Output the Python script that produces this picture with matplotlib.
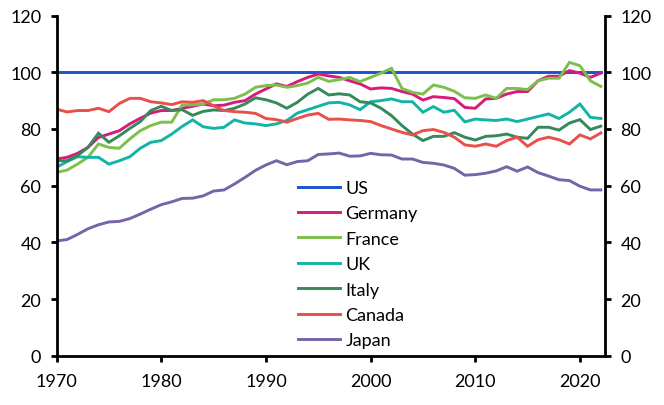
import matplotlib
matplotlib.use("Agg")
import matplotlib.pyplot as plt
import numpy as np

years = list(range(1970, 2023))

us = [100.0] * len(years)

germany = [69.4, 70.0, 71.4, 73.5, 77.0, 78.2, 79.4, 81.8, 83.8, 85.6,
           86.5, 86.5, 87.3, 88.0, 88.8, 88.2, 88.4, 89.4, 90.0, 92.3,
           94.1, 95.9, 95.0, 96.7, 98.2, 99.4, 98.7, 98.2, 97.0, 95.9,
           94.1, 94.5, 94.3, 93.2, 92.3, 90.2, 91.4, 91.1, 90.7, 87.6,
           87.3, 90.6, 90.8, 92.3, 93.2, 93.2, 97.0, 98.6, 98.6, 100.6,
           99.7, 98.2, 99.7]

france = [64.7, 65.5, 67.6, 70.0, 74.7, 73.5, 73.2, 76.5, 79.4, 81.2,
          82.4, 82.4, 88.5, 88.5, 88.8, 90.3, 90.3, 90.8, 92.3, 94.7,
          95.3, 95.5, 94.7, 95.3, 96.2, 98.2, 96.8, 97.4, 98.2, 96.7,
          98.2, 99.7, 101.4, 94.3, 92.9, 92.3, 95.5, 94.7, 93.3, 91.0,
          90.8, 92.0, 90.8, 94.3, 94.3, 93.9, 97.0, 97.9, 97.9, 103.5,
          102.3, 97.0, 95.0]

uk = [66.5, 68.5, 70.2, 70.0, 70.0, 67.6, 68.8, 70.2, 73.2, 75.3,
      75.9, 78.2, 80.9, 83.2, 80.8, 80.2, 80.6, 83.2, 82.1, 81.8,
      81.2, 81.8, 83.0, 85.6, 86.8, 88.0, 89.2, 89.4, 88.5, 86.8,
      89.6, 90.0, 90.6, 89.6, 89.6, 85.9, 87.9, 85.9, 86.6, 82.5,
      83.5, 83.2, 83.0, 83.5, 82.6, 83.5, 84.4, 85.3, 83.7, 85.9,
      88.8, 84.1, 83.7]

italy = [68.8, 68.8, 70.6, 73.5, 78.5, 75.3, 77.6, 80.2, 82.6, 86.5,
         88.0, 86.5, 86.8, 84.8, 86.2, 86.7, 86.5, 87.3, 88.8, 91.0,
         90.3, 89.2, 87.3, 89.4, 92.3, 94.3, 92.0, 92.4, 92.0, 89.6,
         89.2, 87.3, 84.7, 81.2, 78.2, 75.9, 77.4, 77.4, 78.7, 77.1,
         76.1, 77.4, 77.6, 78.2, 77.1, 76.7, 80.6, 80.6, 79.6, 82.1,
         83.3, 79.8, 81.0]

canada = [87.0, 86.0, 86.5, 86.5, 87.3, 86.1, 89.0, 90.8, 90.8, 89.6,
          89.2, 88.6, 89.6, 89.4, 90.0, 88.2, 86.5, 86.1, 85.9, 85.5,
          83.7, 83.3, 82.4, 83.7, 84.9, 85.5, 83.4, 83.5, 83.2, 83.0,
          82.6, 81.2, 80.0, 78.8, 77.9, 79.4, 79.8, 78.8, 77.1, 74.4,
          73.9, 74.7, 73.9, 75.9, 77.1, 73.9, 76.2, 77.1, 76.2, 74.7,
          77.9, 76.5, 78.6]

japan = [40.5, 41.0, 42.8, 44.8, 46.2, 47.2, 47.4, 48.4, 50.0, 51.7,
         53.3, 54.3, 55.5, 55.6, 56.4, 58.1, 58.5, 60.6, 62.9, 65.4,
         67.3, 68.8, 67.4, 68.5, 68.8, 71.0, 71.2, 71.5, 70.4, 70.5,
         71.4, 70.9, 70.8, 69.4, 69.4, 68.2, 67.9, 67.3, 66.1, 63.7,
         63.9, 64.4, 65.2, 66.7, 65.1, 66.6, 64.6, 63.4, 62.1, 61.8,
         59.8, 58.5, 58.5]

labels = ["US", "Germany", "France", "UK", "Italy", "Canada", "Japan"]
colors = ["#1c52d0", "#d61b7b", "#7cbf4b", "#12b5a5", "#35895a", "#e8504c", "#7763a8"]
series = [us, germany, france, uk, italy, canada, japan]

yticks = [0, 20, 40, 60, 80, 100, 120]
xticks = [1970, 1980, 1990, 2000, 2010, 2020]

plt.rcParams['font.family'] = ['Lato', 'DejaVu Sans']

fig = plt.figure(figsize=(6.64, 4.06), dpi=100)
ax = fig.add_axes([0.0852, 0.1212, 0.826, 0.838])

for s, lab, c in zip(series, labels, colors):
    ax.plot(years, s, color=c, lw=2.1, label=lab, solid_joinstyle='miter')

ax.set_xlim(1970, 2022.4)
ax.set_ylim(0, 120)
ax.set_xticks(xticks)
ax.set_yticks(yticks)

for side in ['left', 'right', 'bottom']:
    ax.spines[side].set_linewidth(2.0)
    ax.spines[side].set_color('black')
ax.spines['top'].set_visible(False)

ax.tick_params(axis='both', direction='out', length=4.5, width=2.0,
               labelsize=13, colors='black')
ax.tick_params(axis='x', pad=8)
ax.tick_params(axis='y', pad=6.5, left=True, right=True,
               labelleft=True, labelright=True)

leg = ax.legend(loc='upper left', bbox_to_anchor=(298 / 664, (406 - 181) / 406),
                bbox_transform=fig.transFigure, frameon=False, fontsize=13,
                handlelength=2.33, handletextpad=0.3, labelspacing=0.52,
                borderpad=0, borderaxespad=0)

fig.savefig("out.png", dpi=100)
